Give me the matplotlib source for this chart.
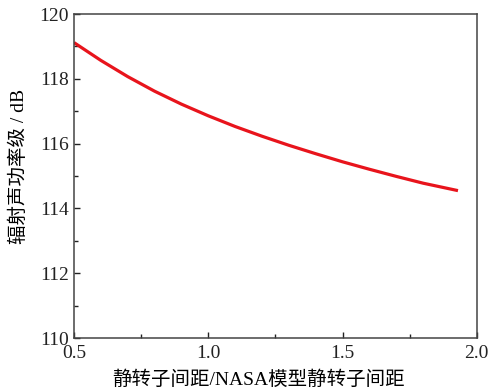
import numpy as np
import matplotlib
matplotlib.use("Agg")
import matplotlib.pyplot as plt
from matplotlib.ticker import MultipleLocator

plt.rcParams['font.family'] = ['Liberation Serif', 'Noto Sans CJK SC']
plt.rcParams['axes.unicode_minus'] = False

# spacing ratio vs radiated sound power level
ratio = [0.5, 0.6, 0.7, 0.8, 0.9, 1.0, 1.1, 1.2, 1.3, 1.4, 1.5, 1.6, 1.7, 1.8, 1.93]
power_db = [119.12, 118.57, 118.07, 117.62, 117.22, 116.86, 116.53, 116.23,
            115.95, 115.69, 115.44, 115.21, 114.99, 114.78, 114.55]

fig = plt.figure(figsize=(4.9, 3.91), dpi=100)
ax = fig.add_axes([0.151, 0.1355, 0.822, 0.8285])

ax.plot(ratio, power_db, color='#e8141c', lw=2.3, solid_capstyle='butt')

ax.set_xlim(0.5, 2.0)
ax.set_ylim(110, 120)
ax.xaxis.set_major_locator(MultipleLocator(0.5))
ax.xaxis.set_minor_locator(MultipleLocator(0.25))
ax.yaxis.set_major_locator(MultipleLocator(2))
ax.yaxis.set_minor_locator(MultipleLocator(1))
ax.set_xticks([0.5, 1.0, 1.5, 2.0])
ax.set_xticklabels(['0.5', '1.0', '1.5', '2.0'])

ax.tick_params(which='both', direction='in', top=False, right=False,
               labelsize=14, colors='#222222')
ax.tick_params(which='major', length=4, width=1)
ax.tick_params(which='minor', length=3, width=1)
ax.tick_params(axis='x', pad=5)
for s in ax.spines.values():
    s.set_color('#444444')
    s.set_linewidth(1.1)

ax.set_xlabel('静转子间距/NASA模型静转子间距', fontsize=14)
ax.set_ylabel('辐射声功率级 / dB', fontsize=14)
ax.xaxis.set_label_coords(0.457, -0.1)
ax.yaxis.set_label_coords(-0.114, 0.53)

fig.savefig('out.png', dpi=100)
